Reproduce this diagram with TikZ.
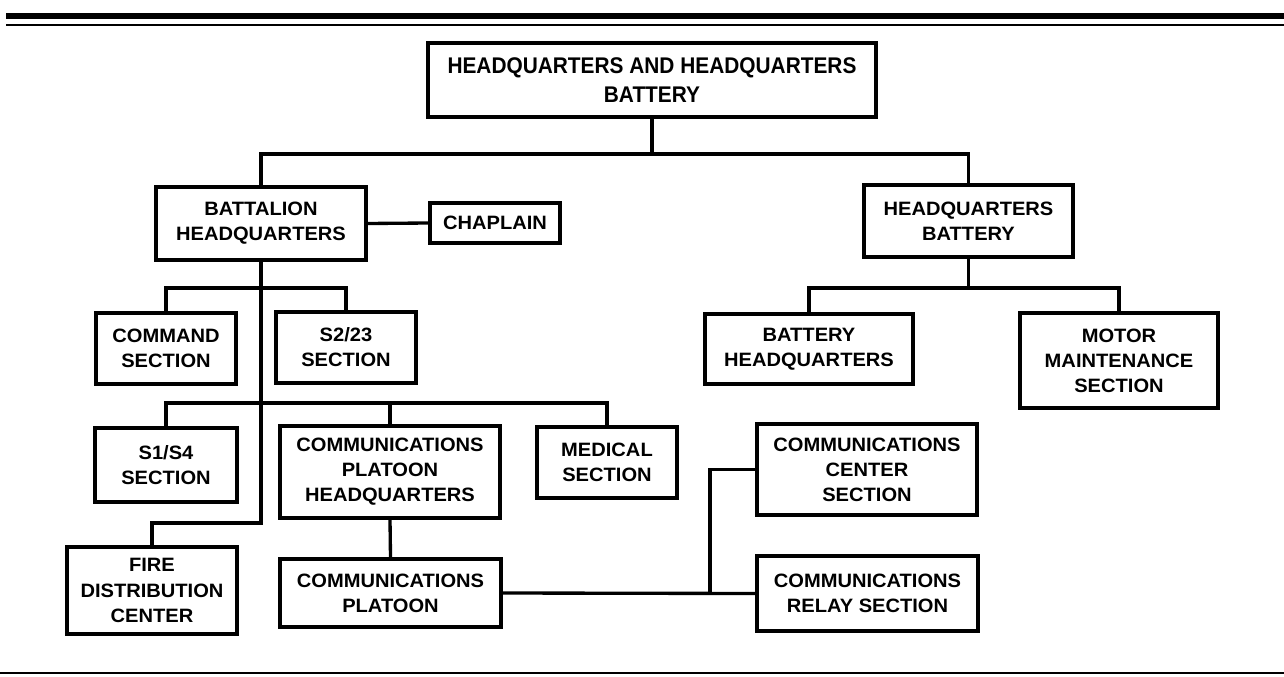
\documentclass[tikz,border=0pt]{standalone}
\usepackage{fontspec}
\setmainfont{Liberation Sans}[FakeStretch=1.04]
\newfontfamily\topfont{Liberation Sans}[FakeStretch=0.92]
\begin{document}
\begin{tikzpicture}[x=0.75pt,y=-0.75pt,
  box/.style={draw=black, line width=3.2pt, fill=white, inner sep=0pt, align=center,
    font=\bfseries\fontsize{14.5}{18.8}\selectfont},
  link/.style={draw=black, line width=2.5pt},
  rule/.style={draw=black}]
\useasboundingbox (0,0) rectangle (1284,677);
\newcommand\orgbox[6]{\node[box, minimum width=#4*0.75pt, minimum height=#5*0.75pt] (#1) at (#2,#3) {#6};}
% rules
\draw[rule, line width=4.5pt] (6,16) -- (1284,16);
\draw[rule, line width=1.5pt] (6,25) -- (1284,25);
\draw[rule, line width=1.8pt] (0,673) -- (1284,673);
% nodes
\node[box, minimum width=448*0.75pt, minimum height=74*0.75pt,
  font=\topfont\bfseries\fontsize{17}{22}\selectfont] (top) at (652,80)
  {HEADQUARTERS AND HEADQUARTERS\\BATTERY};
\orgbox{bhq}{261}{223.5}{210}{73}{BATTALION\\HEADQUARTERS}
\orgbox{chap}{495}{223}{130}{40}{CHAPLAIN}
\orgbox{hqb}{968.5}{221}{209}{72}{HEADQUARTERS\\BATTERY}
\orgbox{cmd}{166}{348.5}{140}{71}{COMMAND\\SECTION}
\orgbox{s223}{346}{347.5}{140}{71}{S2/23\\SECTION}
\orgbox{bathq}{809}{349}{208}{70}{BATTERY\\HEADQUARTERS}
\orgbox{motor}{1119}{360.5}{198}{95}{MOTOR\\MAINTENANCE\\SECTION}
\orgbox{s1s4}{166}{465}{142}{74}{S1/S4\\SECTION}
\orgbox{cphq}{390}{472}{220}{92}{COMMUNICATIONS\\PLATOON\\HEADQUARTERS}
\orgbox{med}{607}{462.5}{140}{71}{MEDICAL\\SECTION}
\orgbox{fdc}{152}{590.5}{170}{87}{FIRE\\DISTRIBUTION\\CENTER}
\orgbox{cp}{390.5}{593}{221}{68}{COMMUNICATIONS\\PLATOON}
\orgbox{ccs}{867}{469.5}{220}{91}{COMMUNICATIONS\\CENTER\\SECTION}
\orgbox{crs}{867.5}{593.5}{221}{75}{COMMUNICATIONS\\RELAY SECTION}
% junction coordinates
\coordinate (b1) at (0,154);
\coordinate (b2) at (0,288);
\coordinate (b3) at (0,403);
\coordinate (j2) at (261,523);
\coordinate (j3) at (710,0);
% connectors
\draw[link] (top.south) -- (top.south |- b1);
\draw[link] (bhq.north) -- (bhq.north |- b1) -- (hqb.north |- b1) -- (hqb.north);
\draw[link] (bhq.east) -- (chap.west);
\draw[link] (cmd.north) -- (cmd.north |- b2) -- (s223.north |- b2) -- (s223.north);
\draw[link] (bhq.south) -- (j2) -| (fdc.north);
\draw[link] (s1s4.north) -- (s1s4.north |- b3) -- (med.north |- b3) -- (med.north);
\draw[link] (cphq.north) -- (cphq.north |- b3);
\draw[link] (cphq.south) -- (cp.north);
\draw[link] (cp.east) -- (crs.west);
\draw[link] (ccs.west) -- (ccs.west -| j3) -- (cp.east -| j3);
\draw[link] (hqb.south) -- (hqb.south |- b2);
\draw[link] (bathq.north) -- (bathq.north |- b2) -- (motor.north |- b2) -- (motor.north);
\end{tikzpicture}
\end{document}
